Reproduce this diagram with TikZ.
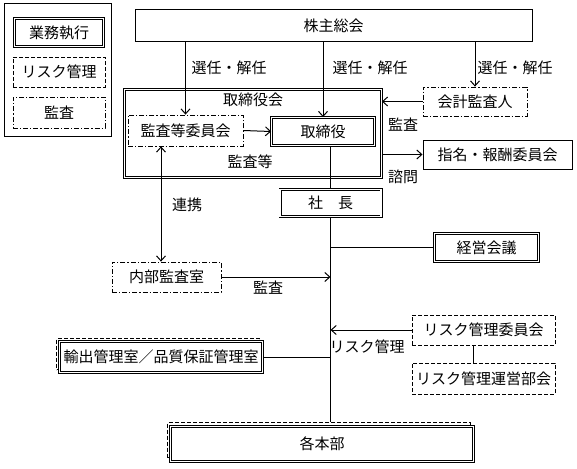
\documentclass[tikz,border=0pt]{standalone}
\usepackage{fontspec}
\setmainfont{Noto Sans CJK JP}
\usetikzlibrary{arrows.meta}
\tikzset{>={Straight Barb[length=5pt,width=9pt]}}
\tikzset{
    box/.style={inner sep=0pt, font=\fontsize{15}{18}\selectfont},
    exec/.style={box, draw, line width=.8pt, double, double distance=1.4pt},
    risk/.style={box, draw, line width=.8pt, dash pattern=on 4pt off 2pt},
    audit/.style={box, draw, line width=.8pt, dash pattern=on 5pt off 2pt on 1.2pt off 2pt},
    plainbox/.style={box, draw, line width=1pt},
    lbl/.style={font=\fontsize{15}{18}\selectfont},
    conn/.style={line width=1pt}
}

\begin{document}
\begin{tikzpicture}[x=1pt, y=-1pt]
    \useasboundingbox(0, 0) rectangle (577, 468);
    % legend
    \draw[line width=1pt](4, 4) rectangle (111, 136);
    \node[exec, minimum width=89, minimum height=28](legexec) at (59, 32.5){業務執行};
    \node[risk, minimum width=92, minimum height=30](legrisk) at (59, 72){リスク管理};
    \node[audit, minimum width=92, minimum height=31](legaudit) at (59, 112.5){監査};
    % boxes
    \node[plainbox, minimum width=397, minimum height=32](kabu) at (333.5, 26){株主総会};
    \node[exec, minimum width=257, minimum height=88](board) at (253, 133.5){};
    \node[lbl](boardlbl) at (253, 100){取締役会};
    \node[lbl](kansatou) at (250, 162){監査等};
    \node[audit, minimum width=115, minimum height=31](auditcom) at (185.5, 130.5){監査等委員会};
    \node[exec, minimum width=103, minimum height=28](dir) at (323, 131.5){取締役};
    \node[exec, minimum width=101, minimum height=27](pres) at (330.5, 203){社　長};
    \node[audit, minimum width=104, minimum height=29](kaikei) at (475, 101.5){会計監査人};
    \node[plainbox, minimum width=149, minimum height=29](nomi) at (497.5, 154.5){指名・報酬委員会};
    \node[exec, minimum width=104, minimum height=28](keiei) at (486.5, 247.5){経営会議};
    \node[audit, minimum width=109, minimum height=30](naibu) at (166.5, 277){内部監査室};
    \node[risk, minimum width=143, minimum height=30](riskcom) at (483.5, 330){リスク管理委員会};
    \node[risk, minimum width=143, minimum height=31](riskope) at (483.5, 378.5){リスク管理運営部会};
    \node[risk, minimum width=203, minimum height=31](yushutsuback) at (158, 354){};
    \node[exec, fill=white, minimum width=203, minimum height=31](yushutsu) at (161, 357){輸出管理室／品質保証管理室};
    \node[risk, minimum width=303, minimum height=35](honbuback) at (319, 440){};
    \node[exec, fill=white, minimum width=303, minimum height=35](honbu) at (322, 444){各本部};
    % connectors
    \draw[conn, ->](kabu.south -| auditcom) -- (auditcom.north);
    \draw[conn, ->](kabu.south -| dir) -- (dir.north);
    \draw[conn, ->](kabu.south -| kaikei) -- (kaikei.north);
    \node[lbl](sen1) at (229, 68){選任・解任};
    \node[lbl](sen2) at (370, 68){選任・解任};
    \node[lbl](sen3) at (515, 68){選任・解任};
    \draw[conn, ->](auditcom.east) -- (dir.west);
    \draw[conn](dir.south -| pres) -- (pres.north);
    \draw[conn, ->](kaikei.west) -- (kaikei.west -| board.east);
    \draw[conn, ->](nomi.west -| board.east) -- (nomi.west);
    \node[lbl](kansa1) at (403, 125){監査};
    \node[lbl](shimon) at (403, 177){諮問};
    \draw[conn, <->](auditcom.south -| 161, 0) -- (naibu.north -| 161, 0);
    \node[lbl](renkei) at (187, 205){連携};
    \draw[conn](pres.south) -- (honbuback.north -| pres);
    \draw[conn](keiei.west -| pres) -- (keiei.west);
    \draw[conn, ->](naibu.east) -- (naibu.east -| pres);
    \node[lbl](kansa2) at (268, 288){監査};
    \draw[conn, ->](riskcom.west) -- (riskcom.west -| pres);
    \node[lbl](risklbl) at (367, 347){リスク管理};
    \draw[conn](riskcom.south -| 473, 0) -- (riskope.north -| 473, 0);
    \draw[conn](yushutsu.east) -- (yushutsu.east -| pres);
\end{tikzpicture}
\end{document}
